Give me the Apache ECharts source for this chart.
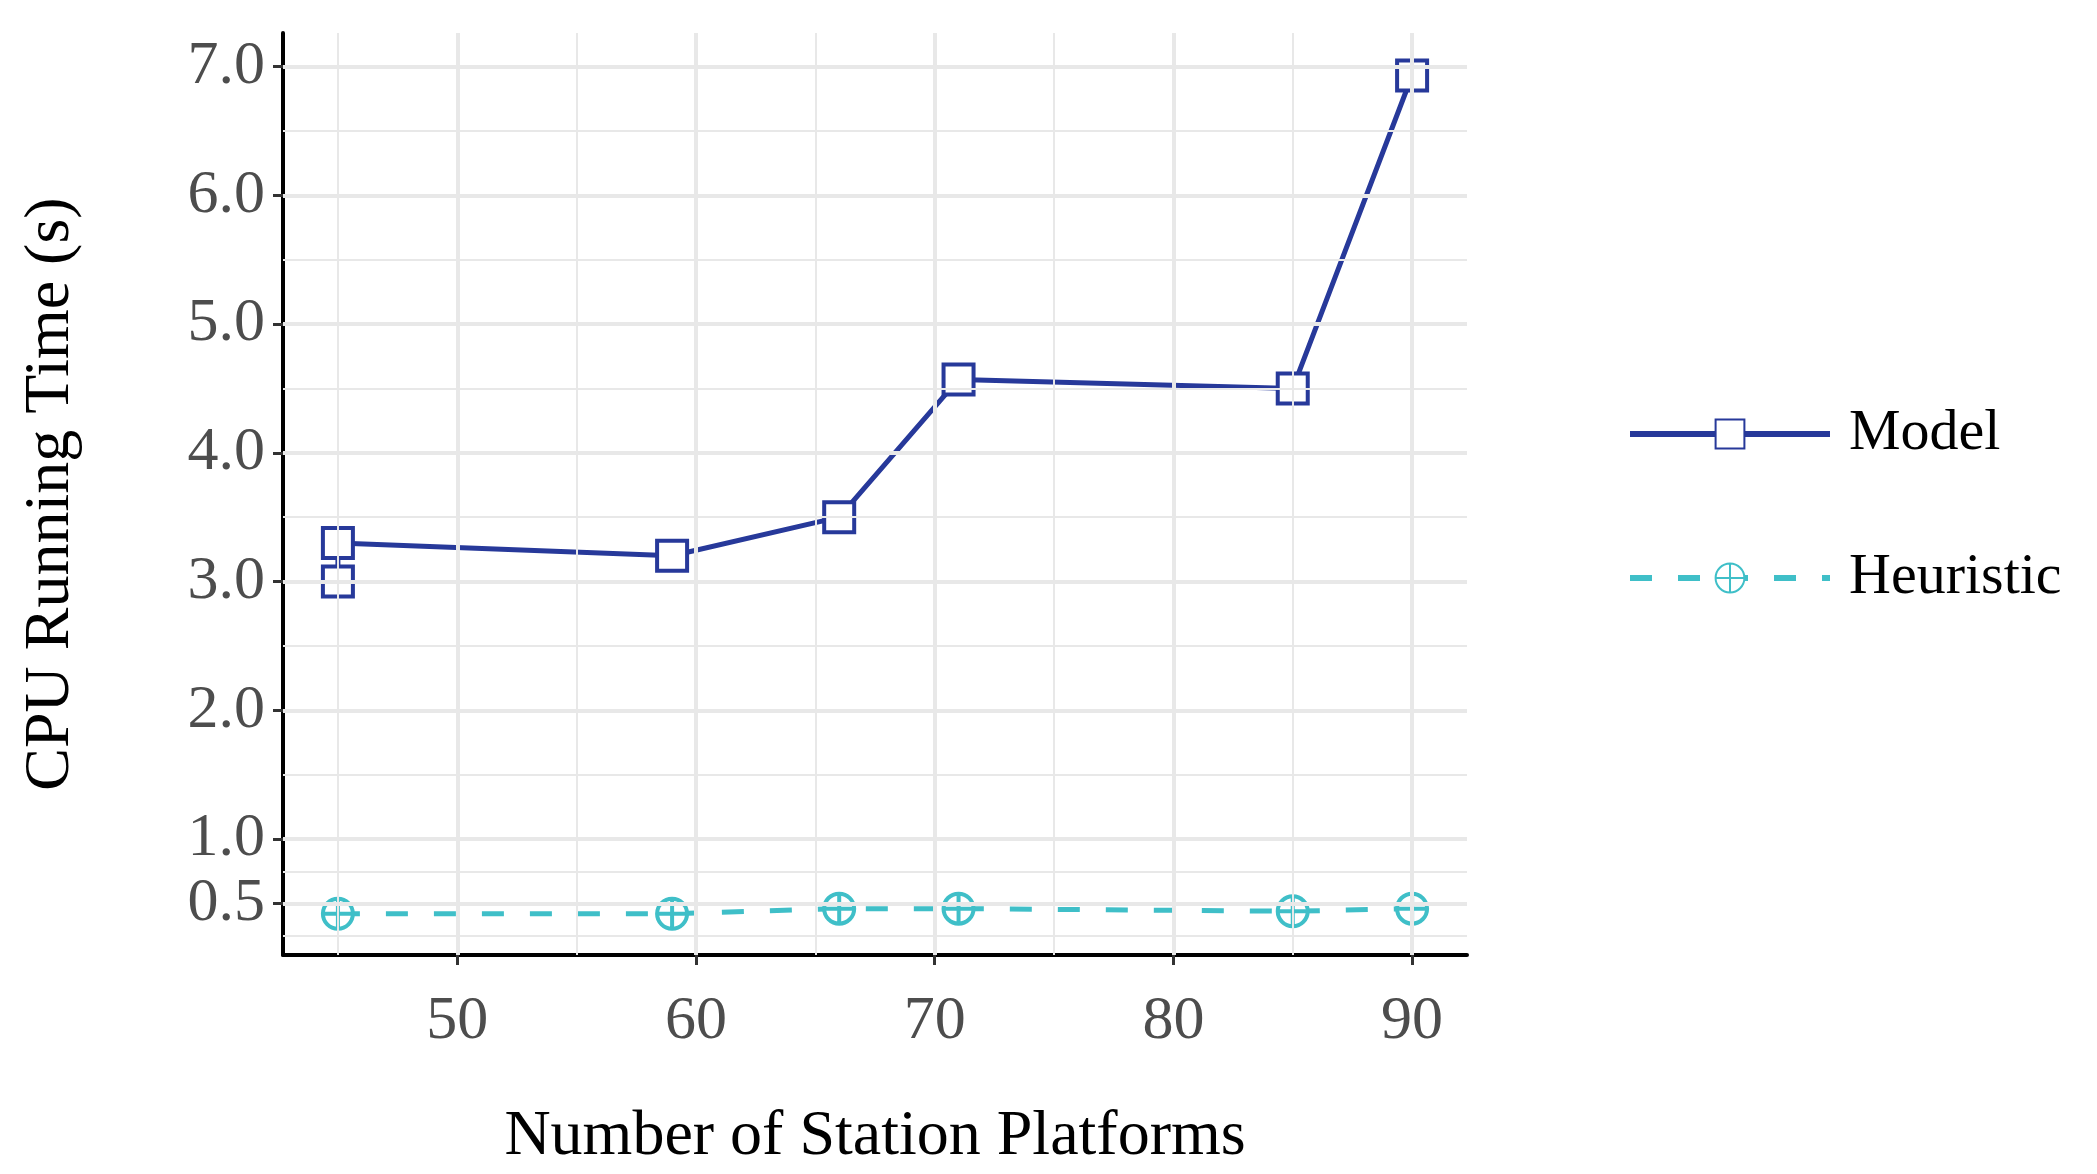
<!DOCTYPE html>
<html><head><meta charset="utf-8">
<script src="https://cdn.jsdelivr.net/npm/echarts@6/dist/echarts.min.js"></script>
<style>html,body{margin:0;padding:0;background:#fff}#c{width:2097px;height:1174px}</style>
</head><body><div id="c"></div>
<script>
const modelX = [45, 45, 59, 66, 71, 85, 90];
const modelY = [3.0, 3.3, 3.2, 3.5, 4.57, 4.5, 6.93];
const heurX = [45, 59, 66, 71, 85, 90];
const heurY = [0.42, 0.42, 0.46, 0.46, 0.44, 0.46];
const yTicks = [0.5, 1, 2, 3, 4, 5, 6, 7];
const yMinor = [0.25, 0.75, 1.5, 2.5, 3.5, 4.5, 5.5, 6.5];
const xTicks = [50, 60, 70, 80, 90];
const xMinor = [45, 55, 65, 75, 85];
const serif = '"Liberation Serif","DejaVu Serif",serif';
const chart = echarts.init(document.getElementById('c'));
const gl = (vals, axis, w) => vals.map(v => ({[axis]: v, lineStyle: {color: '#e8e8e8', width: w, type: 'solid'}}));
chart.setOption({
  animation: false,
  grid: {left: 283, right: 630, top: 33, bottom: 215},
  xAxis: {type: 'value', min: 42.7, max: 92.3,
    name: 'Number of Station Platforms', nameLocation: 'middle', nameGap: 150,
    nameTextStyle: {fontFamily: serif, fontSize: 64, color: '#000'},
    axisLine: {lineStyle: {color: '#000', width: 4}},
    axisTick: {show: true, customValues: xTicks, length: 10, lineStyle: {color: '#333', width: 3}},
    axisLabel: {customValues: xTicks, fontFamily: serif, fontSize: 62, color: '#4d4d4d', margin: 36},
    splitLine: {show: false}},
  yAxis: {type: 'value', min: 0.1, max: 7.26,
    name: 'CPU Running Time (s)', nameLocation: 'middle', nameGap: 200,
    nameTextStyle: {fontFamily: serif, fontSize: 64, color: '#000'},
    axisLine: {show: true, lineStyle: {color: '#000', width: 4}},
    axisTick: {show: true, customValues: yTicks, length: 10, lineStyle: {color: '#333', width: 3}},
    axisLabel: {customValues: yTicks, formatter: v => v.toFixed(1), fontFamily: serif, fontSize: 62, color: '#4d4d4d', margin: 18},
    splitLine: {show: false}},
  legend: {orient: 'vertical', left: 1622, top: 400, itemGap: 86, itemWidth: 200, itemHeight: 36,
    textStyle: {fontFamily: serif, fontSize: 58, color: '#000', padding: [0, 0, 0, 14]},
    data: [{name: 'Model', lineStyle: {width: 6}}, {name: 'Heuristic', lineStyle: {width: 6, type: [22, 26]}}]},
  series: [
    {type: 'line', name: 'grid', data: [], silent: true,
      markLine: {silent: true, symbol: 'none', label: {show: false},
        data: [...gl(yMinor, 'yAxis', 2), ...gl(xMinor, 'xAxis', 2), ...gl(yTicks, 'yAxis', 4), ...gl(xTicks, 'xAxis', 4)]}},
    {type: 'line', name: 'Model', data: modelX.map((x, i) => [x, modelY[i]]),
      symbol: 'rect', symbolSize: 30, showAllSymbol: true,
      lineStyle: {color: '#27399a', width: 5},
      itemStyle: {color: '#fff', borderColor: '#27399a', borderWidth: 4}, z: 3},
    {type: 'line', name: 'Heuristic', data: heurX.map((x, i) => [x, heurY[i]]),
      symbol: 'path://M50,0A50,50,0,1,1,49.9,0Z M50,0L50,100 M0,50L100,50', symbolSize: 30,
      lineStyle: {color: '#3fbfc8', width: 5, type: [22, 26]},
      itemStyle: {color: '#fff', borderColor: '#3fbfc8', borderWidth: 4}, z: 3}
  ]
});
</script></body></html>
